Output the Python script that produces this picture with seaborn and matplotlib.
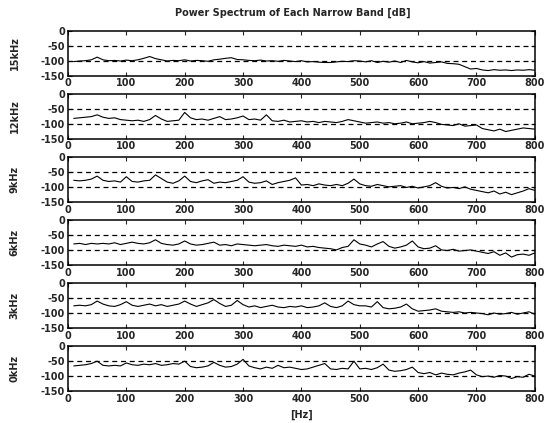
import pandas as pd
import matplotlib
matplotlib.use("Agg")
import matplotlib.pyplot as plt
import seaborn as sns

sns.set_style("ticks")
plt.rcParams['font.family'] = ['DejaVu Sans']
plt.rcParams['axes.unicode_minus'] = False

# frequency axis of every band (Hz)
freq_hz = list(range(10, 801, 10))

band_names = ['15kHz', '12kHz', '9kHz', '6kHz', '3kHz', '0kHz']

band_15k = [-103, -101, -100, -97, -88, -97, -100, -99, -101, -98,
            -100, -97, -92, -86, -93, -97, -101, -99, -100, -97,
            -101, -99, -100, -102, -97, -95, -92, -90, -96, -97,
            -99, -100, -98, -101, -100, -102, -99, -101, -103, -100,
            -104, -103, -105, -106, -106, -104, -102, -103, -100, -101,
            -104, -100, -106, -102, -105, -101, -106, -99, -104, -107,
            -103, -108, -106, -104, -109, -110, -112, -120, -128, -126,
            -131, -133, -130, -132, -131, -133, -131, -132, -130, -132]

band_12k = [-82, -80, -78, -76, -70, -78, -82, -80, -86, -88,
            -90, -88, -92, -86, -72, -84, -92, -90, -88, -62,
            -80, -86, -84, -88, -82, -76, -86, -84, -80, -74,
            -86, -84, -88, -70, -90, -92, -88, -94, -92, -90,
            -94, -92, -96, -92, -94, -96, -92, -86, -90, -94,
            -98, -96, -94, -98, -96, -100, -98, -94, -100, -98,
            -96, -92, -96, -102, -104, -106, -100, -108, -106, -104,
            -116, -120, -124, -118, -126, -122, -118, -114, -116, -118]

band_9k = [-78, -80, -78, -74, -64, -78, -82, -80, -84, -66,
           -82, -84, -80, -78, -60, -72, -84, -88, -80, -64,
           -82, -86, -80, -76, -88, -84, -86, -82, -78, -66,
           -84, -88, -86, -80, -92, -86, -82, -78, -70, -94,
           -92, -96, -90, -94, -96, -92, -96, -88, -74, -90,
           -96, -98, -92, -96, -100, -98, -96, -102, -98, -104,
           -100, -96, -86, -98, -104, -102, -106, -100, -108, -112,
           -116, -120, -114, -124, -118, -126, -120, -114, -106, -112]

band_6k = [-80, -78, -82, -78, -80, -78, -80, -76, -82, -78,
           -74, -78, -80, -76, -66, -78, -82, -84, -80, -70,
           -80, -84, -82, -78, -74, -84, -82, -86, -80, -82,
           -84, -86, -84, -82, -86, -88, -84, -86, -88, -84,
           -90, -88, -92, -94, -96, -100, -92, -88, -66, -80,
           -84, -90, -80, -72, -88, -94, -90, -84, -70, -90,
           -96, -94, -86, -100, -102, -98, -104, -102, -100, -104,
           -108, -112, -106, -118, -110, -124, -116, -114, -118, -110]

band_3k = [-76, -74, -76, -72, -60, -70, -76, -78, -72, -62,
           -74, -78, -74, -70, -76, -72, -78, -74, -70, -60,
           -70, -78, -72, -66, -55, -68, -78, -74, -58, -72,
           -80, -76, -82, -78, -74, -80, -82, -78, -80, -76,
           -82, -80, -76, -66, -78, -82, -76, -60, -72, -76,
           -76, -80, -62, -82, -86, -84, -80, -70, -86, -94,
           -92, -90, -86, -94, -96, -98, -96, -100, -98, -100,
           -102, -106, -100, -104, -102, -98, -104, -100, -96, -104]

band_0k = [-66, -64, -62, -58, -50, -64, -66, -64, -66, -56,
           -62, -64, -60, -62, -58, -64, -62, -58, -60, -50,
           -68, -72, -70, -66, -54, -64, -70, -68, -60, -44,
           -66, -72, -76, -70, -74, -64, -72, -70, -74, -78,
           -76, -70, -64, -58, -76, -78, -74, -76, -50, -76,
           -74, -78, -72, -60, -80, -84, -82, -78, -70, -88,
           -92, -88, -96, -90, -94, -96, -90, -86, -80, -96,
           -102, -100, -104, -98, -100, -108, -102, -104, -94, -100]

bands = [band_15k, band_12k, band_9k, band_6k, band_3k, band_0k]

FONT = dict(fontsize=7, fontweight='bold')

fig, axes = plt.subplots(6, 1, figsize=(5.48, 4.23), dpi=100)
fig.subplots_adjust(left=0.124, right=0.976, top=0.927, bottom=0.0757, hspace=0.41)

for ax, name, vals in zip(axes, band_names, bands):
    df = pd.DataFrame({'Hz': freq_hz, 'dB': vals})
    sns.lineplot(data=df, x='Hz', y='dB', ax=ax, color='black', linewidth=0.8)
    for level in (-50, -100):
        ax.axhline(level, color='black', linestyle=(0, (4, 3)), linewidth=0.9)
    ax.set_xlim(0, 800)
    ax.set_ylim(-150, 0)
    ax.set_xticks(range(0, 801, 100))
    ax.set_yticks([0, -50, -100, -150])
    ax.tick_params(direction='in', length=3, width=0.8, top=True, right=True,
                   labelsize=7, pad=2)
    for lbl in ax.get_xticklabels() + ax.get_yticklabels():
        lbl.set_fontweight('bold')
    for sp in ax.spines.values():
        sp.set_linewidth(1.1)
        sp.set_color('black')
    ax.set_xlabel('')
    ax.set_ylabel(name, **FONT)
    ax.yaxis.set_label_coords(-0.103, 0.5)

fig.text(0.535, 0.969, 'Power Spectrum of Each Narrow Band [dB]', ha='center', va='center', **FONT)
fig.text(0.55, 0.02, '[Hz]', ha='center', va='center', **FONT)

fig.savefig('out.png', dpi=100)
